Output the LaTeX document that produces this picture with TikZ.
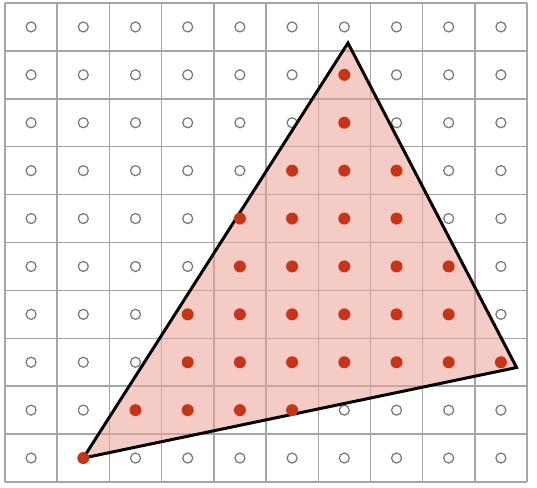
\documentclass[tikz,border=0pt]{standalone}
\usepackage{tikz}

\definecolor{gridgray}{RGB}{165,165,165}
\definecolor{ringgray}{RGB}{120,120,120}
\definecolor{dotred}{RGB}{200,52,22}
\definecolor{tripink}{RGB}{235,160,150}

\begin{document}
\begin{tikzpicture}[x=1cm,y=1cm,
  gridline/.style={draw=gridgray,line width=0.8pt},
  missdot/.style={circle,draw=ringgray,line width=0.7pt,minimum size=0.2cm,inner sep=0pt},
  hitdot/.style={circle,fill=dotred,minimum size=0.24cm,inner sep=0pt},
  triedge/.style={line width=1.7pt,line join=miter}]
  \def\cellw{1.044}
  \def\cellh{0.958}
  % row / first covered column / last covered column
  \def\coverage{0/10/9,1/6/6,2/6/6,3/5/7,4/4/7,5/4/8,6/3/8,7/3/9,8/2/5,9/1/1}

  \useasboundingbox (-0.10,0.06) rectangle (10.64,-9.70);

  \foreach \line in {0,...,10} {
    \draw[gridline] ({\line*\cellw},0) -- ({\line*\cellw},{-10*\cellh});
    \draw[gridline] (0,{-\line*\cellh}) -- ({10*\cellw},{-\line*\cellh});
  }

  % samples outside the triangle
  \foreach \row/\first/\last in \coverage
    \foreach \col in {0,...,9} {
      \pgfmathtruncatemacro\hit{(\col>=\first)&&(\col<=\last)}
      \ifnum\hit=0
        \node[missdot] (s-\row-\col) at ({(\col+0.5)*\cellw},{-(\row+0.5)*\cellh}) {};
      \fi
    }

  \coordinate (apex) at ({6.57*\cellw},{-0.835*\cellh});
  \coordinate (rightcorner) at ({9.80*\cellw},{-7.61*\cellh});
  \coordinate (leftcorner) at ({1.5*\cellw},{-9.5*\cellh});
  \draw[triedge,fill=tripink,fill opacity=0.55] (leftcorner) -- (apex) -- (rightcorner) -- cycle;

  % samples inside the triangle
  \foreach \row/\first/\last in \coverage
    \foreach \col in {0,...,9} {
      \pgfmathtruncatemacro\hit{(\col>=\first)&&(\col<=\last)}
      \ifnum\hit=1
        \node[hitdot] (s-\row-\col) at ({(\col+0.5)*\cellw},{-(\row+0.5)*\cellh}) {};
      \fi
    }
\end{tikzpicture}
\end{document}
